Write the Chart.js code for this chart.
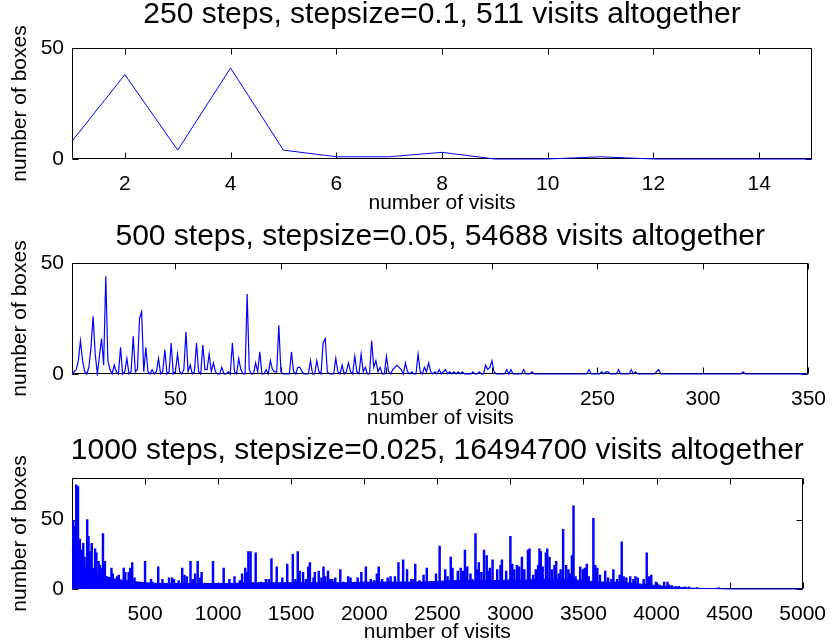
<!DOCTYPE html>
<html>
<head>
<meta charset="utf-8">
<script src="https://cdn.jsdelivr.net/npm/chart.js@4/dist/chart.umd.min.js"></script>
<style>
  html, body { margin: 0; padding: 0; background: #fff; overflow: hidden; }
  #wrap { position: relative; width: 839px; height: 644px; }
  canvas { position: absolute; left: 0; }
</style>
</head>
<body>
<div id="wrap">
  <canvas id="c1" width="839" height="215" style="top:0"></canvas>
  <canvas id="c2" width="839" height="215" style="top:215px"></canvas>
  <canvas id="c3" width="839" height="214" style="top:430px"></canvas>
</div>
<script>
// ---- Panel 1: 250 steps, stepsize 0.1 ----
const visits1 = [1, 2, 3, 4, 5, 6, 7, 8, 9, 10, 11, 12, 13, 14, 15];
const boxes1  = [8, 38, 4, 41, 4, 1, 1, 3, 0, 0, 1, 0, 0, 0, 0];
const xTicks1 = [2, 4, 6, 8, 10, 12, 14];

// ---- Panel 2: 500 steps, stepsize 0.05 (visit counts that have boxes) ----
const visits2 = [2, 3, 4, 5, 6, 7, 9, 10, 11, 12, 14, 15, 16, 17, 18, 19, 21, 22, 24, 26,
  27, 29, 30, 31, 32, 33, 34, 35, 36, 37, 39, 41, 42, 44, 45, 47, 48, 50, 51, 52,
  54, 55, 56, 57, 59, 60, 61, 63, 64, 65, 66, 67, 68, 69, 72, 75, 77, 78, 80, 81,
  84, 85, 88, 89, 90, 93, 95, 96, 97, 98, 99, 100, 105, 106, 108, 109, 110, 114, 117, 118,
  120, 121, 122, 126, 127, 129, 131, 132, 133, 135, 136, 138, 139, 140, 143, 144, 145, 146, 147, 150,
  151, 153, 154, 155, 156, 157, 159, 160, 162, 165, 166, 168, 169, 170, 171, 173, 175, 177, 178, 180,
  182, 184, 186, 191, 194, 197, 198, 199, 200, 201, 207, 209, 215, 219, 246, 252, 254, 255, 260, 266,
  268, 278, 279, 319];
const boxes2 = [1, 2, 6, 15, 6, 1, 3, 12, 26, 9, 8, 16, 4, 44, 6, 2, 4, 1, 12, 1,
  7, 1, 17, 1, 2, 25, 28, 1, 12, 1, 2, 1, 7, 1, 11, 1, 14, 1, 9, 1,
  2, 19, 1, 4, 1, 14, 1, 13, 2, 2, 9, 1, 5, 1, 3, 1, 14, 1, 7, 2,
  36, 2, 5, 1, 10, 2, 6, 2, 1, 1, 22, 1, 10, 1, 3, 3, 1, 6, 6, 1,
  14, 16, 1, 7, 1, 4, 1, 5, 1, 8, 1, 9, 1, 3, 15, 3, 6, 1, 3, 8,
  1, 2, 3, 4, 3, 2, 5, 1, 1, 9, 1, 3, 1, 5, 1, 1, 2, 1, 2, 1,
  1, 1, 1, 1, 1, 4, 2, 3, 6, 1, 2, 2, 2, 1, 2, 1, 1, 1, 2, 2,
  1, 1, 2, 1];
const xMax2 = 350;
const xTicks2 = [50, 100, 150, 200, 250, 300, 350];

// ---- Panel 3: 1000 steps, stepsize 0.025 ----
// individual spikes
const visits3 = [4, 9, 18, 29, 41, 54, 63, 77, 86, 104, 113, 124, 135, 144, 158, 167, 182, 191, 200, 212,
  225, 234, 270, 279, 308, 320, 354, 365, 388, 399, 412, 428, 466, 500, 541, 550, 590, 619, 664, 685,
  698, 730, 754, 770, 786, 811, 827, 842, 860, 878, 887, 917, 939, 965,
  1038, 1077, 1112, 1149, 1164, 1185, 1196, 1207, 1222, 1257, 1293, 1327, 1347, 1365, 1401, 1439, 1473, 1511, 1529, 1545,
  1558, 1581, 1601, 1617, 1628, 1653, 1662, 1689, 1707, 1721, 1734, 1752, 1766, 1782, 1802, 1836, 1856, 1890, 1906, 1935,
  1955, 1980, 2011, 2045, 2068, 2086, 2099, 2122, 2160, 2180, 2210, 2234, 2266, 2293, 2322, 2338, 2349, 2378, 2406, 2428,
  2457, 2491, 2516, 2554, 2570, 2592, 2604, 2622, 2640, 2660, 2675, 2689, 2705, 2727, 2738, 2761, 2773, 2784, 2802, 2820,
  2838, 2847, 2860, 2878, 2892, 2910, 2932, 2942, 2971, 3000, 3013, 3027, 3045, 3061, 3079, 3095, 3120, 3131, 3156, 3174,
  3190, 3199, 3208, 3221, 3243, 3252, 3268, 3284, 3302, 3313, 3331, 3344, 3361, 3381, 3397, 3410, 3421, 3432, 3446, 3478,
  3496, 3509, 3523, 3536, 3568, 3581, 3595, 3613, 3649, 3669, 3692, 3705, 3730, 3748, 3762, 3775, 3793, 3820, 3842, 3856,
  3872, 3912, 3933, 3950, 3964, 3996, 4018, 4052, 4075, 4086, 4104, 4131, 4153, 4194, 4221, 4277, 4424];
const boxes3 = [48, 49, 45, 75, 74, 36, 28, 33, 23, 50, 38, 27, 33, 15, 29, 26, 20, 17, 15, 40,
  20, 9, 15, 11, 9, 10, 15, 12, 12, 15, 19, 8, 5, 20, 7, 5, 16, 7, 8, 8,
  7, 6, 15, 10, 9, 20, 7, 11, 20, 8, 12, 4, 4, 20,
  15, 7, 9, 6, 11, 15, 12, 27, 27, 26, 5, 7, 7, 22, 16, 8, 18, 25, 7, 27,
  13, 12, 7, 16, 19, 8, 12, 13, 8, 16, 9, 13, 7, 7, 8, 14, 5, 9, 8, 5,
  8, 12, 16, 7, 6, 11, 16, 7, 8, 9, 9, 19, 21, 14, 7, 7, 18, 6, 10, 15,
  5, 11, 31, 14, 9, 23, 15, 5, 13, 15, 13, 28, 16, 11, 7, 40, 14, 19, 12, 28,
  24, 13, 15, 21, 6, 14, 17, 21, 13, 38, 18, 14, 17, 16, 23, 14, 28, 29, 10, 14,
  17, 29, 27, 16, 26, 29, 23, 14, 17, 20, 11, 14, 43, 17, 14, 11, 24, 60, 9, 16,
  14, 15, 18, 9, 51, 17, 15, 10, 13, 8, 7, 14, 7, 10, 34, 9, 8, 9, 7, 9,
  8, 7, 26, 9, 10, 5, 3, 5, 5, 3, 2.5, 2, 2, 1.5, 1.5, 1, 1];
// dense low band underneath the spikes
const bandVisits3 = [0, 100, 200, 300, 400, 500, 600, 700, 800, 900, 1000, 1100, 1200, 1300, 1400, 1500, 1600,
  1700, 1800, 1900, 2000, 2100, 2200, 2300, 2400, 2500, 2600, 2700, 2800, 2900, 3000, 3100, 3200, 3300,
  3400, 3500, 3600, 3700, 3800, 3900, 4000, 4100, 4200, 4300, 4400, 4500, 4600, 4700, 4800, 4900, 5000];
const bandBoxes3 = [28, 16, 10, 7, 5.5, 4.5, 4, 4, 4, 4, 4, 4, 4.5, 4.5, 4.5, 4.5, 4.5,
  4.5, 4.5, 4.5, 5, 5, 5, 5, 5, 5.5, 6, 6, 6, 6, 6.5, 6.5, 7, 7,
  7, 6, 5, 5, 4.5, 3.5, 2.5, 1.5, 0.8, 0.4, 0.3, 0, 0, 0, 0, 0, 0];
const xTicks3 = [500, 1000, 1500, 2000, 2500, 3000, 3500, 4000, 4500, 5000];

const yTicks = [0, 50];

const FONT = "'Liberation Sans', Arial, Helvetica, sans-serif";
const BLUE = '#0000ff';

const pts = (xs, ys) => xs.map((x, i) => ({x: x, y: ys[i]}));

// histogram for panel 2: visit counts not listed have no boxes
const series2 = [];
for (let v = 1; v <= xMax2; v++) {
  const k = visits2.indexOf(v);
  series2.push({x: v, y: k >= 0 ? boxes2[k] : 0});
}

// axes box with inward tick marks on all four sides
const framePlugin = {
  id: 'frame',
  beforeDatasetsDraw(chart) {
    const {ctx, chartArea: a} = chart;
    const xs = chart.scales.x, ys = chart.scales.y;
    const L = 6;
    const l = Math.round(a.left) + 0.5, r = Math.round(a.right) - 0.5;
    const t = Math.round(a.top) + 0.5, b = Math.round(a.bottom) - 0.5;
    ctx.save();
    ctx.strokeStyle = '#000';
    ctx.lineWidth = 1;
    ctx.beginPath();
    ctx.rect(l, t, r - l, b - t);
    xs.ticks.forEach(tk => {
      const px = Math.round(xs.getPixelForValue(tk.value)) + 0.5;
      ctx.moveTo(px, b); ctx.lineTo(px, b - L);
      ctx.moveTo(px, t); ctx.lineTo(px, t + L);
    });
    ys.ticks.forEach(tk => {
      const py = Math.round(ys.getPixelForValue(tk.value)) + 0.5;
      ctx.moveTo(l, py); ctx.lineTo(l + L, py);
      ctx.moveTo(r, py); ctx.lineTo(r - L, py);
    });
    ctx.stroke();
    ctx.restore();
  }
};

// panel title centred over the axes box
const axesTitle = {
  id: 'axesTitle',
  afterDraw(chart, args, opts) {
    const {ctx, chartArea: a} = chart;
    ctx.save();
    ctx.font = 'normal 30px ' + FONT;
    ctx.fillStyle = '#000';
    ctx.textAlign = 'center';
    ctx.textBaseline = 'middle';
    ctx.fillText(opts.text, (a.left + a.right) / 2, opts.y);
    ctx.restore();
  }
};

function panel(id, o) {
  const H = document.getElementById(id).height;
  return new Chart(document.getElementById(id), {
    type: 'line',
    data: {datasets: o.datasets},
    options: {
      responsive: false,
      animation: false,
      events: [],
      layout: {padding: {left: 0, right: 27, top: 48, bottom: 0}},
      plugins: {
        legend: {display: false},
        tooltip: {enabled: false},
        title: {display: false},
        axesTitle: {text: o.title, y: o.titleY}
      },
      scales: {
        x: {
          type: 'linear', min: o.xMin, max: o.xMax, offset: false,
          afterBuildTicks: s => { s.ticks = o.xTicks.map(v => ({value: v})); },
          afterFit: s => { s.height = H - 159; },
          grid: {display: false, drawTicks: false},
          border: {display: false},
          ticks: {color: '#000', font: {family: FONT, size: 21}, padding: 13,
                  maxRotation: 0, autoSkip: false, callback: v => String(v)},
          title: {display: true, text: 'number of visits', color: '#000',
                  font: {family: FONT, size: 21, lineHeight: 1}, padding: {top: 0, bottom: 1.5}}
        },
        y: {
          type: 'linear', min: 0, max: o.yMax,
          afterBuildTicks: s => { s.ticks = yTicks.map(v => ({value: v})); },
          afterFit: s => { s.width = 72; },
          grid: {display: false, drawTicks: false},
          border: {display: false},
          ticks: {color: '#000', font: {family: FONT, size: 21}, padding: 8,
                  callback: v => String(v)},
          title: {display: true, text: 'number of boxes', color: '#000',
                  font: {family: FONT, size: 21}, padding: {top: 8, bottom: 0}}
        }
      }
    },
    plugins: [framePlugin, axesTitle]
  });
}

panel('c1', {
  title: '250 steps, stepsize=0.1, 511 visits altogether',
  titleY: 15, xMin: 1, xMax: 15, yMax: 50, xTicks: xTicks1,
  datasets: [{data: pts(visits1, boxes1), borderColor: BLUE, borderWidth: 1,
              pointRadius: 0, tension: 0, fill: false, clip: 2}]
});

panel('c2', {
  title: '500 steps, stepsize=0.05, 54688 visits altogether',
  titleY: 22, xMin: 1, xMax: xMax2, yMax: 50, xTicks: xTicks2,
  datasets: [{data: series2, borderColor: BLUE, borderWidth: 1.2,
              pointRadius: 0, tension: 0, fill: false, clip: 2}]
});

panel('c3', {
  title: '1000 steps, stepsize=0.025, 16494700 visits altogether',
  titleY: 21, xMin: 0, xMax: 5000, yMax: 80, xTicks: xTicks3,
  datasets: [
    {type: 'bar', data: pts(visits3, boxes3), backgroundColor: BLUE,
     barThickness: 1.8, grouped: false, borderWidth: 0},
    {type: 'line', data: pts(bandVisits3, bandBoxes3), borderColor: BLUE, backgroundColor: BLUE,
     borderWidth: 1, pointRadius: 0, tension: 0, fill: 'origin', clip: 2}
  ]
});
</script>
</body>
</html>
